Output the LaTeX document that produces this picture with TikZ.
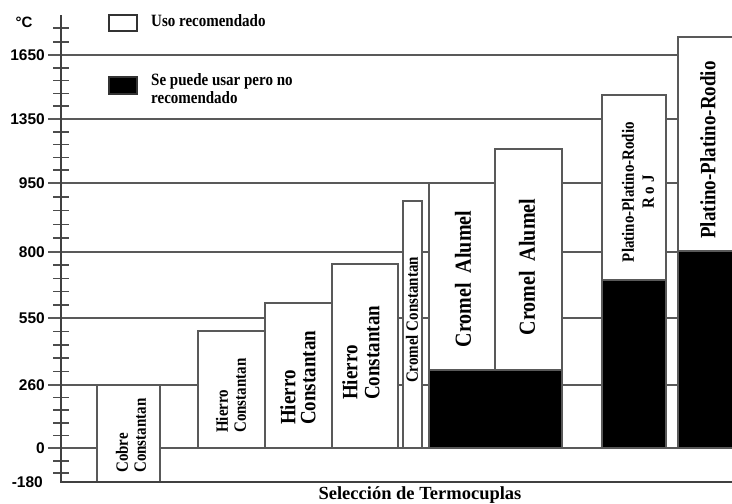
\documentclass[tikz,border=0pt]{standalone}
\usepackage{fontspec}
\setmainfont{Liberation Serif}
\newfontfamily\axisfont{Liberation Sans}
\begin{document}
\begin{tikzpicture}[x=1pt,y=-1pt,
    grid/.style={draw=black!65,line width=1.6pt},
    tick/.style={draw=black!70,line width=1.5pt},
    bar/.style={draw=black!65,line width=1.3pt,fill=white},
    lbl/.style={font=\bfseries,rotate=90,yscale=1.15,inner sep=0pt},
    legbox/.style={draw=black!80,line width=1.8pt},
    ]
    \useasboundingbox (0,0) rectangle (732,504);
    \begin{scope}
    \clip (0,0) rectangle (732,504);
    \foreach \y/\t [count=\i] in {55/1650,119/1350,183/950,252/800,318/550,385/260,448/0}{
        \draw[grid] (48,\y)--(732,\y);
        \node[anchor=east,inner sep=0pt,font=\axisfont\bfseries\fontsize{15.5}{16}\selectfont] (val\i) at (45,\y) {\t};
    }
    \foreach \a/\b in {55/119,119/183,183/252,252/318,318/385,385/448}
    \foreach \k in {1,...,4}
    \draw[tick] (53,{\a+(\b-\a)*\k/5})--(69,{\a+(\b-\a)*\k/5});
    \foreach \y in {28,42,461,473}
    \draw[tick] (53,\y)--(69,\y);
    % barras
    \draw[bar] (97,385) rectangle (160,482);
    \draw[bar] (198,331) rectangle (265,448);
    \draw[bar] (265,303) rectangle (332,448);
    \draw[bar] (332,264) rectangle (398,448);
    \draw[bar] (403,201) rectangle (422,448);
    \draw[bar] (429,183) rectangle (495,448);
    \draw[bar] (495,149) rectangle (562,448);
    \draw[bar] (602,95) rectangle (666,448);
    \draw[bar] (678,37) rectangle (745,448);
    \draw[bar,fill=black] (429,370) rectangle (562,448);
    \draw[bar,fill=black] (602,280) rectangle (666,448);
    \draw[bar,fill=black] (678,251) rectangle (745,448);
    \draw[black!75,line width=1.8pt] (61,15)--(61,482)--(732,482);
    \end{scope}
    \node[inner sep=0pt,font=\axisfont\bfseries\fontsize{15.5}{16}\selectfont] (val8) at (43,482) [anchor=east] {-180};
    \node[inner sep=0pt,font=\axisfont\bfseries\fontsize{15}{16}\selectfont] (unit) at (24,22) {°C};
    % leyenda
    \draw[legbox] (109,15) rectangle (137,31);
    \node[anchor=west,yscale=1.15,inner sep=0pt,font=\bfseries\fontsize{15}{15.6}\selectfont] (usorec) at (151,21) {Uso recomendado};
    \draw[legbox,fill=black] (109,77) rectangle (137,94);
    \node[anchor=west,yscale=1.15,align=left,inner sep=0pt,font=\bfseries\fontsize{15}{15.6}\selectfont] (usarno) at (151,89) {Se puede usar pero no\\recomendado};
    % textos de las barras
    \node[lbl,anchor=west,align=left,font=\bfseries\fontsize{15}{15.6}\selectfont] (cobre) at (131,473) {Cobre\\Constantan};
    \node[lbl,anchor=west,align=left,font=\bfseries\fontsize{15}{15.6}\selectfont] (hierroa) at (231,433) {Hierro\\Constantan};
    \node[lbl,anchor=west,align=left,font=\bfseries\fontsize{19}{17.4}\selectfont] (hierrob) at (298,425) {Hierro\\Constantan};
    \node[lbl,anchor=west,align=left,font=\bfseries\fontsize{19}{19.1}\selectfont] (hierroc) at (361,400) {Hierro\\Constantan};
    \node[lbl,font=\bfseries\fontsize{15}{16}\selectfont] (cromcon) at (412,320) {Cromel Constantan};
    \node[lbl,font=\bfseries\fontsize{20}{20}\selectfont] (cromala) at (463,279) {Cromel\ \ Alumel};
    \node[lbl,font=\bfseries\fontsize{20}{20}\selectfont] (cromalb) at (527,267) {Cromel\ \ Alumel};
    \node[lbl,align=center,font=\bfseries\fontsize{15}{17.4}\selectfont] (platrj) at (638,192) {Platino-Platino-Rodio\\R o J};
    \node[lbl,font=\bfseries\fontsize{19}{20}\selectfont] (plat) at (708,150) {Platino-Platino-Rodio};
    \node[anchor=base,inner sep=0pt,font=\bfseries\fontsize{18.5}{20}\selectfont] (titulo) at (420,499) {Selección de Termocuplas};
\end{tikzpicture}
\end{document}
